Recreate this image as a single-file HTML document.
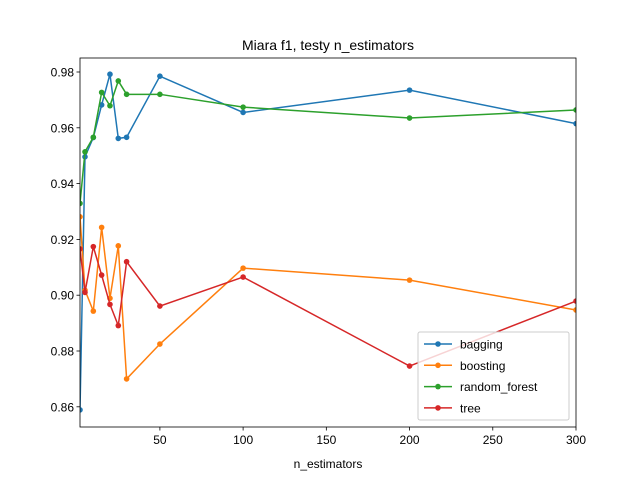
<!DOCTYPE html>
<html><head><meta charset="utf-8"><style>
body{margin:0;background:#fff}
svg{font-family:"Liberation Sans",sans-serif;display:block}
</style></head><body>
<svg id="c" width="640" height="480"></svg>
<script>
const xs=[2,5,10,15,20,25,30,50,100,200,300];
const seriesNames=["bagging","boosting","random_forest","tree"];
const bagging=[0.8589,0.9496,0.9565,0.9682,0.9792,0.9562,0.9566,0.9785,0.9655,0.9735,0.9615];
const boosting=[0.9281,0.9018,0.8943,0.9243,0.8989,0.9177,0.8700,0.8825,0.9097,0.9054,0.8947];
const randomForest=[0.9329,0.9514,0.9566,0.9727,0.9679,0.9768,0.9720,0.9720,0.9674,0.9635,0.9664];
const tree=[0.9166,0.9010,0.9174,0.9072,0.8967,0.8891,0.9120,0.8961,0.9065,0.8746,0.8979];
const xTicks=[50,100,150,200,250,300];
const yTicks=[0.86,0.88,0.90,0.92,0.94,0.96,0.98];
const colors=["#1f77b4","#ff7f0e","#2ca02c","#d62728"];
const L=80,R=576,T=58,B=427;
const sx=v=>L+(v-2)*(R-L)/298;
const sy=v=>72+(0.98-v)/0.02*55.8;
const svg=document.getElementById('c');
const NS="http://www.w3.org/2000/svg";
function el(t,a,p){const e=document.createElementNS(NS,t);for(const k in a)e.setAttribute(k,a[k]);(p||svg).appendChild(e);return e;}
const clip=el('clipPath',{id:'cl'});el('rect',{x:L,y:T,width:R-L,height:B-T},clip);
const all=[bagging,boosting,randomForest,tree];
all.forEach((s,i)=>{
 const g=el('g',{'clip-path':'url(#cl)'});
 
 
 const pl=el('polyline',{points:s.map((v,j)=>sx(xs[j])+','+sy(v)).join(' '),fill:'none',stroke:colors[i],'stroke-width':1.5},g);
 
 
 s.forEach((v,j)=>{const c=el('circle',{cx:sx(xs[j]),cy:sy(v),r:2.8,fill:colors[i]},g);
  
  });
});
const fr=el('rect',{x:L,y:T,width:R-L,height:B-T,fill:'none',stroke:'#000','stroke-width':0.8});

xTicks.forEach(t=>{const x=sx(t);el('line',{x1:x,x2:x,y1:B,y2:B+3.5,stroke:'#000','stroke-width':0.8});
 const tx=el('text',{x:x,y:B+17,'text-anchor':'middle','font-size':12});tx.textContent=t;
 });
yTicks.forEach(t=>{const y=sy(t);el('line',{x1:L,x2:L-3.5,y1:y,y2:y,stroke:'#000','stroke-width':0.8});
 const tx=el('text',{x:L-6,y:y+4.5,'text-anchor':'end','font-size':12});tx.textContent=t.toFixed(2);
 });
const xt=el('text',{x:(L+R)/2,y:468,'text-anchor':'middle','font-size':12});xt.textContent='n_estimators';

const ti=el('text',{x:(L+R)/2,y:50,'text-anchor':'middle','font-size':14});ti.textContent='Miara f1, testy n_estimators';

const lg=el('g',{});
el('rect',{x:418,y:332,width:151,height:88,rx:2,fill:'#fff','fill-opacity':0.8,stroke:'#ccc'},lg);
seriesNames.forEach((n,i)=>{const y=344+i*21.3;
 el('line',{x1:424,x2:452,y1:y,y2:y,stroke:colors[i],'stroke-width':1.5},lg);
 el('circle',{cx:438,cy:y,r:2.8,fill:colors[i]},lg);
 const tx=el('text',{x:460,y:y+4.5,'font-size':12},lg);tx.textContent=n;
 });
</script>
</body></html>
